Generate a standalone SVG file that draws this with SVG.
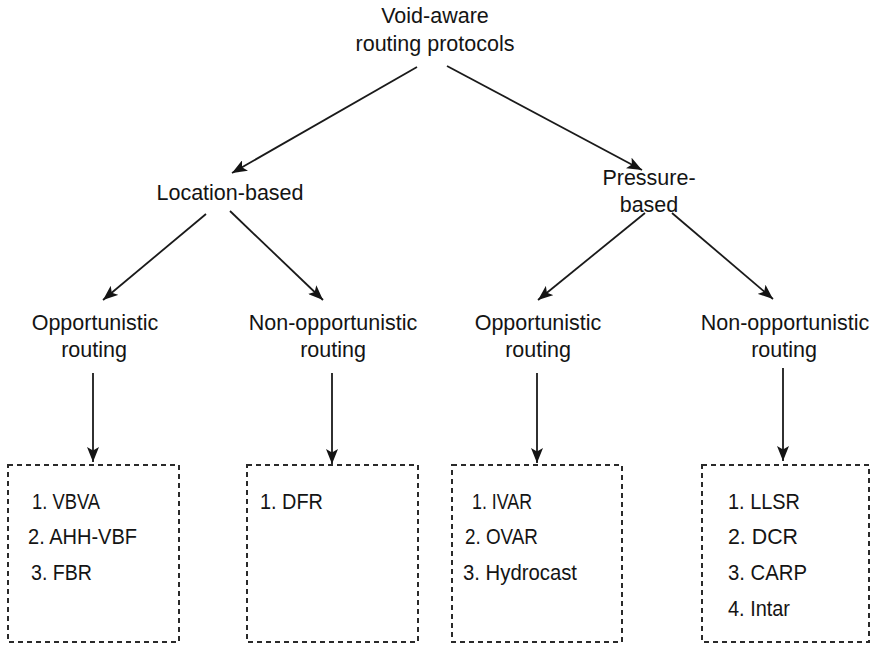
<svg xmlns="http://www.w3.org/2000/svg" width="871" height="645" viewBox="0 0 871 645">
  <style>
    .lbl { font-family: "Liberation Sans", Arial, sans-serif; font-size: 21.5px; fill: #141414; text-anchor: middle; }
    .item { font-family: "Liberation Sans", Arial, sans-serif; font-size: 22px; fill: #141414; }
    .edge { stroke: #1a1a1a; stroke-width: 1.8; fill: none; marker-end: url(#arrow); }
    .box { fill: none; stroke: #2a2a2a; stroke-width: 2; stroke-dasharray: 5 4; }
  </style>
  <defs>
    <marker id="arrow" markerUnits="userSpaceOnUse" viewBox="0 0 15 12" refX="15" refY="6" markerWidth="15" markerHeight="12" orient="auto">
      <path d="M0,0 L15,6 L0,12 L3.5,6 z" fill="#141414"/>
    </marker>
  </defs>
  <rect width="871" height="645" fill="#ffffff"/>

  <!-- connectors -->
  <g id="connectors">
    <line class="edge" x1="417" y1="67" x2="232" y2="173"/>
    <line class="edge" x1="447" y1="66" x2="642" y2="170"/>
    <line class="edge" x1="206" y1="214" x2="103" y2="300"/>
    <line class="edge" x1="230" y1="211" x2="323" y2="300"/>
    <line class="edge" x1="645" y1="213" x2="538" y2="300"/>
    <line class="edge" x1="672" y1="213" x2="773" y2="299"/>
    <line class="edge" x1="93" y1="373" x2="93" y2="462"/>
    <line class="edge" x1="332" y1="373" x2="332" y2="464"/>
    <line class="edge" x1="537" y1="373" x2="537" y2="463"/>
    <line class="edge" x1="783" y1="368" x2="783" y2="461"/>
  </g>

  <!-- tree labels -->
  <g id="root">
    <text class="lbl" x="435" y="23">Void-aware</text>
    <text class="lbl" x="435" y="51">routing protocols</text>
  </g>
  <g id="location-based">
    <text class="lbl" x="230" y="200">Location-based</text>
  </g>
  <g id="pressure-based">
    <text class="lbl" x="649" y="185">Pressure-</text>
    <text class="lbl" x="649" y="212">based</text>
  </g>
  <g id="loc-opportunistic">
    <text class="lbl" x="95" y="330">Opportunistic</text>
    <text class="lbl" x="94" y="357">routing</text>
  </g>
  <g id="loc-non-opportunistic">
    <text class="lbl" x="333" y="330">Non-opportunistic</text>
    <text class="lbl" x="333" y="357">routing</text>
  </g>
  <g id="pres-opportunistic">
    <text class="lbl" x="538" y="330">Opportunistic</text>
    <text class="lbl" x="538" y="357">routing</text>
  </g>
  <g id="pres-non-opportunistic">
    <text class="lbl" x="785" y="330">Non-opportunistic</text>
    <text class="lbl" x="784" y="357">routing</text>
  </g>

  <!-- protocol lists -->
  <g id="list-loc-opp">
    <rect class="box" x="8" y="465" width="171" height="177"/>
    <text class="item" x="32" y="509" textLength="68" lengthAdjust="spacingAndGlyphs">1. VBVA</text>
    <text class="item" x="28" y="544" textLength="109" lengthAdjust="spacingAndGlyphs">2. AHH-VBF</text>
    <text class="item" x="31" y="580" textLength="61" lengthAdjust="spacingAndGlyphs">3. FBR</text>
  </g>
  <g id="list-loc-nonopp">
    <rect class="box" x="247" y="465" width="171" height="177"/>
    <text class="item" x="260" y="509" textLength="63" lengthAdjust="spacingAndGlyphs">1. DFR</text>
  </g>
  <g id="list-pres-opp">
    <rect class="box" x="452" y="465" width="170" height="177"/>
    <text class="item" x="472" y="509" textLength="60" lengthAdjust="spacingAndGlyphs">1. IVAR</text>
    <text class="item" x="465" y="544" textLength="73" lengthAdjust="spacingAndGlyphs">2. OVAR</text>
    <text class="item" x="463" y="580" textLength="114" lengthAdjust="spacingAndGlyphs">3. Hydrocast</text>
  </g>
  <g id="list-pres-nonopp">
    <rect class="box" x="702" y="465" width="167" height="177"/>
    <text class="item" x="728" y="509" textLength="72" lengthAdjust="spacingAndGlyphs">1. LLSR</text>
    <text class="item" x="728" y="544" textLength="70" lengthAdjust="spacingAndGlyphs">2. DCR</text>
    <text class="item" x="728" y="580" textLength="79" lengthAdjust="spacingAndGlyphs">3. CARP</text>
    <text class="item" x="728" y="616" textLength="62" lengthAdjust="spacingAndGlyphs">4. Intar</text>
  </g>
</svg>
